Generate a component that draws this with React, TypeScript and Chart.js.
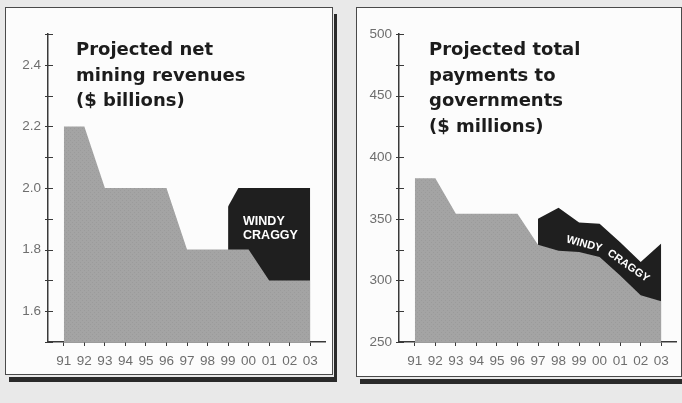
import React, { useEffect, useRef } from 'react';
import { Chart, registerables } from 'chart.js';

Chart.register(...registerables);

// ---------- data ----------
const years = [1991, 1992, 1993, 1994, 1995, 1996, 1997, 1998, 1999, 2000, 2001, 2002, 2003];
const yearLabels = ['91', '92', '93', '94', '95', '96', '97', '98', '99', '00', '01', '02', '03'];

const revenueBase = [2.2, 2.2, 2.0, 2.0, 2.0, 2.0, 1.8, 1.8, 1.8, 1.8, 1.7, 1.7, 1.7];
const revenueWindyYears = [1999, 1999.5, 2000, 2001, 2002, 2003];
const revenueWindy = [1.94, 2.0, 2.0, 2.0, 2.0, 2.0];
const revenueTicks = [1.6, 1.8, 2.0, 2.2, 2.4];
const revenueRange = [1.5, 2.5];
const revenueMinorStep = 0.1;
const revenueTitle = ['Projected net', 'mining revenues', '($ billions)'];

const paymentsBase = [383, 383, 354, 354, 354, 354, 329, 324, 323, 319, 304, 288, 283];
const paymentsWindyYears = [1997, 1998, 1999, 2000, 2001, 2002, 2003];
const paymentsWindy = [350, 359, 347, 346, 331, 315, 330];
const paymentsTicks = [250, 300, 350, 400, 450, 500];
const paymentsRange = [250, 500];
const paymentsMinorStep = 25;
const paymentsTitle = ['Projected total', 'payments to', 'governments', '($ millions)'];

const windyLabel = ['WINDY', 'CRAGGY'];

// ---------- styles ----------
const FONT = "'Liberation Sans', Arial, Helvetica, sans-serif";
const TITLE_FONT = "'DejaVu Sans', 'Liberation Sans', sans-serif";
const GRAY = '#a4a4a4';
const DARK = '#1f1f1f';
const AXIS = '#3a3a3a';
const TICK = '#6e6e6e';
const TITLE = '#1c1c1c';

type Ann = { text: string; x: number; y: number; angle: number; align: CanvasTextAlign; baseline: CanvasTextBaseline; size: number };

function makePattern(): CanvasPattern | string {
  const c = document.createElement('canvas');
  c.width = 4;
  c.height = 4;
  const g = c.getContext('2d');
  if (!g) return GRAY;
  g.fillStyle = GRAY;
  g.fillRect(0, 0, 4, 4);
  g.fillStyle = '#9b9b9b';
  g.fillRect(0, 0, 1, 1);
  g.fillRect(2, 2, 1, 1);
  const p = g.createPattern(c, 'repeat');
  return p || GRAY;
}

const overlayPlugin = {
  id: 'overlay',
  afterDraw(chart: any, _args: any, opts: any) {
    const { ctx, chartArea } = chart;
    const xs = chart.scales.x;
    const ys = chart.scales.y;
    ctx.save();
    // y axis tick marks (major + minor)
    ctx.strokeStyle = AXIS;
    ctx.lineWidth = 1;
    const [mn, mx] = opts.range;
    for (let k = 0; ; k++) {
      const v = mn + k * opts.step;
      if (v > mx + 1e-9) break;
      const py = Math.round(ys.getPixelForValue(v)) + 0.5;
      ctx.beginPath();
      ctx.moveTo(chartArea.left - 3, py);
      ctx.lineTo(chartArea.left + 5, py);
      ctx.stroke();
    }
    // title
    ctx.fillStyle = TITLE;
    ctx.font = `bold 18px ${TITLE_FONT}`;
    ctx.textAlign = 'left';
    ctx.textBaseline = 'alphabetic';
    opts.title.forEach((line: string, i: number) => {
      ctx.fillText(line, chartArea.left + opts.titleX, chartArea.top + 21 + i * 25.5);
    });
    // annotations
    ctx.fillStyle = '#ffffff';
    opts.annotations.forEach((a: Ann) => {
      ctx.save();
      ctx.translate(xs.getPixelForValue(a.x), ys.getPixelForValue(a.y));
      ctx.rotate((a.angle * Math.PI) / 180);
      ctx.font = `bold ${a.size}px ${FONT}`;
      ctx.textAlign = a.align;
      ctx.textBaseline = a.baseline;
      ctx.fillText(a.text, 0, 0);
      ctx.restore();
    });
    ctx.restore();
  },
};

type PanelProps = {
  width: number;
  height: number;
  padRight: number;
  xHeight: number;
  base: number[];
  windyYears: number[];
  windy: number[];
  ticks: number[];
  range: number[];
  step: number;
  decimals: number;
  title: string[];
  titleX: number;
  annotations: Ann[];
};

function PanelChart(p: PanelProps) {
  const ref = useRef<HTMLCanvasElement>(null);
  useEffect(() => {
    if (!ref.current) return;
    const fill = makePattern();
    const chart = new Chart(ref.current, {
      type: 'line',
      data: {
        datasets: [
          {
            data: years.map((x, i) => ({ x, y: p.base[i] })),
            fill: 'start',
            backgroundColor: fill as any,
            borderWidth: 0,
            pointRadius: 0,
            tension: 0,
          },
          {
            data: p.windyYears.map((x, i) => ({ x, y: p.windy[i] })),
            fill: 'start',
            backgroundColor: DARK,
            borderWidth: 0,
            pointRadius: 0,
            tension: 0,
          },
        ],
      },
      options: {
        responsive: false,
        animation: false,
        devicePixelRatio: 1,
        events: [],
        layout: { padding: { left: 0, right: p.padRight, top: 26, bottom: 0 } },
        plugins: {
          legend: { display: false },
          tooltip: { enabled: false },
          overlay: {
            range: p.range,
            step: p.step,
            title: p.title,
            titleX: p.titleX,
            annotations: p.annotations,
          },
        } as any,
        scales: {
          x: {
            type: 'linear',
            min: 1990.23,
            max: 2003.72,
            afterBuildTicks: (s: any) => {
              s.ticks = years.map((v) => ({ value: v }));
            },
            afterFit: (s: any) => {
              s.height = p.xHeight;
            },
            ticks: {
              callback: (_v: any, i: number) => yearLabels[i],
              autoSkip: false,
              maxRotation: 0,
              padding: 7,
              color: TICK,
              font: { family: FONT, size: 13.5 },
            },
            grid: { display: true, drawOnChartArea: false, drawTicks: true, tickLength: 4, color: AXIS, lineWidth: 1 },
            border: { display: true, color: AXIS, width: 1.5 },
          },
          y: {
            type: 'linear',
            min: p.range[0],
            max: p.range[1],
            afterBuildTicks: (s: any) => {
              s.ticks = p.ticks.map((v) => ({ value: v }));
            },
            afterFit: (s: any) => {
              s.width = 42;
            },
            ticks: {
              callback: (v: any) => Number(v).toFixed(p.decimals),
              padding: 7,
              color: TICK,
              font: { family: FONT, size: 13.5 },
            },
            grid: { display: false, drawTicks: false },
            border: { display: true, color: AXIS, width: 1.5 },
          },
        },
      } as any,
      plugins: [overlayPlugin as any],
    });
    return () => chart.destroy();
  }, []);
  return <canvas ref={ref} width={p.width} height={p.height} style={{ display: 'block', width: p.width, height: p.height }} />;
}

function Panel(props: { left: number; top: number; width: number; height: number; children: React.ReactNode }) {
  return (
    <div
      style={{
        position: 'absolute',
        left: props.left,
        top: props.top,
        width: props.width,
        height: props.height,
        boxSizing: 'border-box',
        border: '1px solid #4a4a4a',
        background: '#fcfcfc',
        boxShadow: '1px 2px 0 #e9e9e9, 4px 7px 0 #2a2a2a',
      }}
    >
      {props.children}
    </div>
  );
}

export default function App() {
  return (
    <div
      style={{
        position: 'fixed',
        left: 0,
        top: 0,
        width: 682,
        height: 403,
        background: '#e9e9e9',
        overflow: 'hidden',
      }}
    >
      <Panel left={5} top={7} width={328} height={368}>
        <PanelChart
          width={326}
          height={366}
          padRight={7}
          xHeight={32}
          base={revenueBase}
          windyYears={revenueWindyYears}
          windy={revenueWindy}
          ticks={revenueTicks}
          range={revenueRange}
          step={revenueMinorStep}
          decimals={1}
          title={revenueTitle}
          titleX={28}
          annotations={[
            { text: windyLabel[0], x: 1999.73, y: 1.88, angle: 0, align: 'left', baseline: 'alphabetic', size: 12.5 },
            { text: windyLabel[1], x: 1999.73, y: 1.834, angle: 0, align: 'left', baseline: 'alphabetic', size: 12.5 },
          ]}
        />
      </Panel>
      <Panel left={356} top={7} width={326} height={370}>
        <PanelChart
          width={324}
          height={368}
          padRight={5}
          xHeight={34}
          base={paymentsBase}
          windyYears={paymentsWindyYears}
          windy={paymentsWindy}
          ticks={paymentsTicks}
          range={paymentsRange}
          step={paymentsMinorStep}
          decimals={0}
          title={paymentsTitle}
          titleX={30}
          annotations={[
            { text: windyLabel[0], x: 1999.25, y: 329.5, angle: 15, align: 'center', baseline: 'middle', size: 11 },
            { text: windyLabel[1], x: 2001.4, y: 311.7, angle: 35, align: 'center', baseline: 'middle', size: 11 },
          ]}
        />
      </Panel>
    </div>
  );
}
